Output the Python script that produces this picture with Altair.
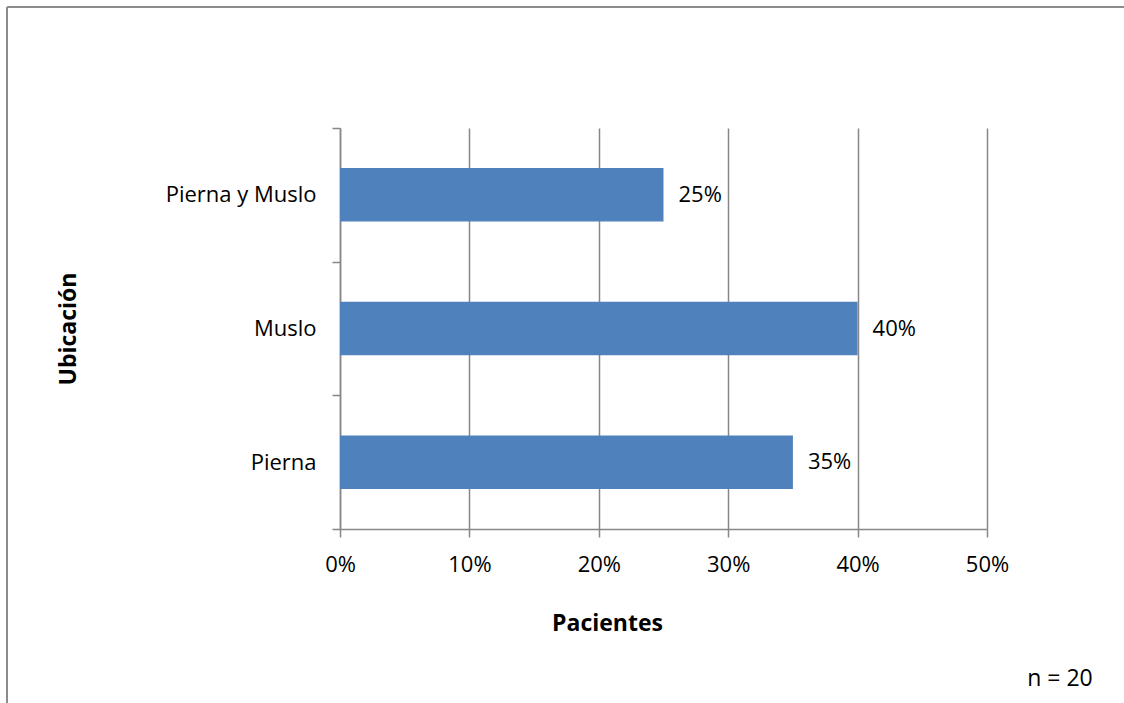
import altair as alt
import pandas as pd

# Location of the lesion and share of patients
categories = ["Pierna y Muslo", "Muslo", "Pierna"]
shares = [0.25, 0.40, 0.35]
labels = ["25%", "40%", "35%"]
x_ticks = [0, 0.1, 0.2, 0.3, 0.4, 0.5]

df = pd.DataFrame({"ubicacion": categories, "pct": shares, "label": labels})

FONT = "Open Sans"
FS = 22
FS_TITLE = 23
GRID = "#878787"
BAR = "#4F81BD"

W, H = 647, 401
LEFT, TOP = 340, 128

y_enc = alt.Y(
    "ubicacion:N",
    sort=categories,
    scale=alt.Scale(paddingInner=0, paddingOuter=0),
    axis=alt.Axis(
        title="Ubicación",
        titleFont=FONT, titleFontSize=FS_TITLE, titleFontWeight="bold", titleColor="black",
        titleAngle=-90, titleX=-272, titleY=H / 2, titleAlign="center", titleBaseline="middle",
        labelFont=FONT, labelFontSize=FS, labelColor="black", labelPadding=16,
        domainColor=GRID, domainWidth=1.5, tickColor=GRID, tickWidth=1.5, tickSize=8,
        tickBand="extent", grid=False,
    ),
)

x_enc = alt.X(
    "pct:Q",
    scale=alt.Scale(domain=[0, 0.5], nice=False),
    axis=alt.Axis(
        values=x_ticks, format=".0%",
        title="Pacientes",
        titleFont=FONT, titleFontSize=FS_TITLE, titleFontWeight="bold", titleColor="black",
        titleX=267, titleY=94, titleBaseline="middle",
        labelFont=FONT, labelFontSize=FS, labelColor="black", labelPadding=17,
        labelFlush=False,
        domainColor=GRID, domainWidth=1.5, tickColor=GRID, tickWidth=1.5, tickSize=8,
        grid=True, gridColor=GRID, gridWidth=1.5,
    ),
)

bars = alt.Chart(df).mark_bar(color=BAR, height=alt.RelativeBandSize(0.4)).encode(x=x_enc, y=y_enc)

values = alt.Chart(df).mark_text(
    align="left", baseline="middle", dx=15, font=FONT, fontSize=FS, color="black"
).encode(x="pct:Q", y=alt.Y("ubicacion:N", sort=categories), text="label:N")

note = alt.Chart(pd.DataFrame({"t": ["n = 20"]})).mark_text(
    align="center", baseline="middle", font=FONT, fontSize=FS_TITLE, color="black"
).encode(x=alt.value(1060 - LEFT), y=alt.value(679 - TOP), text="t:N")

# Outer frame of the chart area (top and left edges visible)
frame_top = alt.Chart(pd.DataFrame({"a": [0]})).mark_rule(color="#8c8c8c", strokeWidth=2, clip=False).encode(
    x=alt.value(7 - LEFT), x2=alt.value(1124 - LEFT), y=alt.value(7 - TOP)
)
frame_left = alt.Chart(pd.DataFrame({"a": [0]})).mark_rule(color="#8c8c8c", strokeWidth=2, clip=False).encode(
    x=alt.value(7 - LEFT), y=alt.value(7 - TOP), y2=alt.value(703 - TOP)
)

chart = (
    alt.layer(bars, values, note, frame_top, frame_left)
    .properties(
        width=W, height=H,
        padding={"left": LEFT, "top": TOP, "right": 1124 - LEFT - W, "bottom": 703 - TOP - H},
        autosize=alt.AutoSizeParams(type="none"),
        background="white",
    )
    .configure_view(stroke=None)
)

chart.save("out.html", embed_options={"renderer": "svg", "actions": False})
